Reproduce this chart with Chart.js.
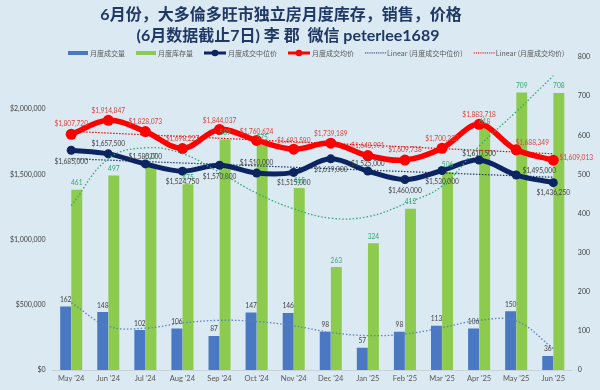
<!DOCTYPE html>
<html><head><meta charset="utf-8">
<script src="https://cdn.jsdelivr.net/npm/chart.js@4.4.1/dist/chart.umd.min.js"></script>
<style>
html,body{margin:0;padding:0;background:#DAE9F2;}
#wrap{width:600px;height:390px;position:relative;}
</style></head><body>
<div id="wrap"><canvas id="c" width="600" height="390"></canvas></div>
<script>
// ---------- data ----------
const categories = ["May '24","Jun '24","Jul '24","Aug '24","Sep '24","Oct '24","Nov '24","Dec '24","Jan '25","Feb '25","Mar '25","Apr '25","May '25","Jun '25"];
const salesVolume = [162,148,102,106,87,147,146,98,57,98,113,106,150,36];
const inventory = [461,497,527,475,589,575,465,263,324,412,506,618,709,708];
const medianPrice = [1685000,1657500,1580000,1524750,1570000,1510000,1515000,1619000,1525000,1460000,1530000,1610500,1495000,1436250];
const averagePrice = [1807720,1914847,1828073,1698227,1844037,1760624,1693590,1739189,1643991,1609738,1700232,1883718,1688349,1609013];
const salesTrend = [172,112,107,120,127,124,113,96,88,92,108,127,125,55];
const inventoryTrend = [420,540,568,553,505,452,412,388,392,425,470,572,660,752];
const medianLinearEnds = [1620000,1478000];
const averageLinearEnds = [1830000,1658000];
const leftTicks = [0,500000,1000000,1500000,2000000];
const rightTicks = [0,100,200,300,400,500,600,700,800];
const titleLines = ["6月份，大多倫多旺市独立房月度库存，销售，价格","(6月数据截止7日) 李 郡  微信 peterlee1689"];
const seriesNames = ["月度成交量","月度库存量","月度成交中位价","月度成交均价","Linear (月度成交中位价)","Linear (月度成交均价)"];

// ---------- styles ----------
const C = {blue:'#4A78C2', green:'#8DCB4E', navy:'#0C2461', red:'#FF0000', teal:'#2FA872', grey:'#595959', dark:'#404040'};
const titleCenters = [[281,15],[288,36]];
const medianLabelOffsets = [[0,11],[0,-10],[0,-7],[0,10],[0,11],[0,-10],[0,10],[0,11],[0,-8],[0,11],[0,11],[0,-6],[23,-4],[0,10]];
const averageLabelOffsets = [[0,-11],[0,-10],[0,-10],[0,-10],[0,-9],[0,-9],[0,-9],[0,-10],[0,-10],[0,-10],[0,-10],[0,-10],[16,-7],[23,-3]];
const barLabelOffsets = categories.map(()=>[0,-7]);
const legendKinds = [['bar',C.blue],['bar',C.green],['line',C.navy],['line',C.red],['dot','#1F3864'],['dot',C.red]];

function lineFrom(ends){ return categories.map((c,i)=> i===0 ? ends[0] : (i===categories.length-1 ? ends[1] : null)); }
const money = v => '$' + v.toLocaleString('en-US');

const labelPlugin={
  id:'valueLabels',
  afterDatasetsDraw(chart){
    const ctx=chart.ctx;
    chart.data.datasets.forEach((ds,i)=>{
      const cfg=ds.valueLabels; if(!cfg) return;
      const meta=chart.getDatasetMeta(i);
      if(meta.hidden) return;
      meta.data.forEach((el,j)=>{
        const v=ds.data[j]; if(v==null) return;
        const off=cfg.offsets[j];
        ctx.save();
        ctx.translate(el.x+off[0], el.y+off[1]);
        ctx.scale(0.88,1);
        ctx.font='7.5px Lato, "Liberation Sans", sans-serif';
        ctx.fillStyle=cfg.color;
        ctx.textAlign='center';
        ctx.textBaseline='middle';
        ctx.fillText(cfg.fmt(v),0,0);
        ctx.restore();
      });
    });
  }
};

const headerPlugin={
  id:'excelHeader',
  afterDraw(chart){
    const ctx=chart.ctx;
    ctx.save();
    // title
    ctx.font='bold 16px Lato, "Noto Sans CJK SC", sans-serif';
    ctx.fillStyle='#1F3864';
    ctx.textAlign='center';
    ctx.textBaseline='middle';
    titleLines.forEach((t,i)=>ctx.fillText(t,titleCenters[i][0],titleCenters[i][1]));
    // legend
    const y=53;
    let x=68;
    ctx.font='7px "Noto Sans CJK SC", Lato, sans-serif';
    ctx.textAlign='left';
    seriesNames.forEach((name,i)=>{
      const [kind,color]=legendKinds[i];
      if(kind==='bar'){ctx.fillStyle=color;ctx.fillRect(x,y-2,20,4);x+=22;}
      else if(kind==='line'){
        ctx.strokeStyle=color;ctx.lineWidth=3;ctx.beginPath();ctx.moveTo(x,y);ctx.lineTo(x+22,y);ctx.stroke();
        ctx.fillStyle=color;ctx.beginPath();ctx.arc(x+11,y,3.3,0,Math.PI*2);ctx.fill();x+=24;
      } else {
        ctx.fillStyle=color;for(let k=0;k<20;k+=2.2){ctx.fillRect(x+k,y-0.6,1.1,1.1);} x+=22;
      }
      ctx.fillStyle=C.grey;
      ctx.fillText(name,x,y+0.5);
      x+=ctx.measureText(name).width+11;
    });
    ctx.restore();
  }
};

new Chart(document.getElementById('c'),{
  type:'bar',
  data:{
    labels:categories,
    datasets:[
      {label:seriesNames[0],data:salesVolume,yAxisID:'y1',backgroundColor:C.blue,order:3,
       categoryPercentage:0.6,barPercentage:0.98,
       valueLabels:{offsets:barLabelOffsets,color:C.dark,fmt:v=>String(v)}},
      {label:seriesNames[1],data:inventory,yAxisID:'y1',backgroundColor:C.green,order:3,
       categoryPercentage:0.6,barPercentage:0.98,
       valueLabels:{offsets:barLabelOffsets,color:C.teal,fmt:v=>String(v)}},
      {type:'line',label:seriesNames[2],data:medianPrice,yAxisID:'y',borderColor:C.navy,backgroundColor:C.navy,
       borderWidth:5,pointRadius:4.5,pointBackgroundColor:C.navy,pointBorderWidth:0,tension:0.35,order:1,
       valueLabels:{offsets:medianLabelOffsets,color:C.dark,fmt:money}},
      {type:'line',label:seriesNames[3],data:averagePrice,yAxisID:'y',borderColor:C.red,backgroundColor:C.red,
       borderWidth:5.5,pointRadius:5.5,pointBackgroundColor:C.red,pointBorderWidth:0,tension:0.35,order:1,
       valueLabels:{offsets:averageLabelOffsets,color:'#E0403C',fmt:money}},
      {type:'line',label:seriesNames[4],data:lineFrom(medianLinearEnds),yAxisID:'y',spanGaps:true,borderColor:'#1F3864',
       borderWidth:1.2,borderDash:[1.5,1.5],pointRadius:0,order:2},
      {type:'line',label:seriesNames[5],data:lineFrom(averageLinearEnds),yAxisID:'y',spanGaps:true,borderColor:C.red,
       borderWidth:1.2,borderDash:[1.5,1.5],pointRadius:0,order:2},
      {type:'line',label:'trend sales',data:salesTrend,yAxisID:'y1',borderColor:'#5B82C0',borderWidth:1.3,
       borderDash:[1.5,2],pointRadius:0,tension:0.4,order:0},
      {type:'line',label:'trend inventory',data:inventoryTrend,yAxisID:'y1',borderColor:'#2FA872',borderWidth:1.3,
       borderDash:[1.5,2],pointRadius:0,tension:0.4,order:0}
    ]
  },
  options:{
    responsive:false,animation:false,
    layout:{padding:{left:3,right:4,top:57,bottom:3}},
    plugins:{
      tooltip:{enabled:false},
      legend:{display:false},
      title:{display:false}
    },
    scales:{
      x:{grid:{display:false,drawTicks:false},border:{display:true,color:'#C9D3DA'},
        ticks:{color:C.grey,font:{family:'Lato, sans-serif',size:7.5},padding:4,maxRotation:0,autoSkip:false}},
      y:{position:'left',min:0,max:2400000,grid:{display:false,drawTicks:false},border:{display:false},
        afterBuildTicks(ax){ax.ticks=leftTicks.map(v=>({value:v}));},
        ticks:{color:C.dark,font:{family:'Lato, sans-serif',size:7},padding:7,callback:v=>money(v)}},
      y1:{position:'right',min:0,max:800,grid:{display:false,drawTicks:false},border:{display:false},
        afterBuildTicks(ax){ax.ticks=rightTicks.map(v=>({value:v}));},
        ticks:{color:C.dark,font:{family:'Lato, sans-serif',size:7},padding:6}}
    }
  },
  plugins:[labelPlugin,headerPlugin]
});
</script>
</body></html>
